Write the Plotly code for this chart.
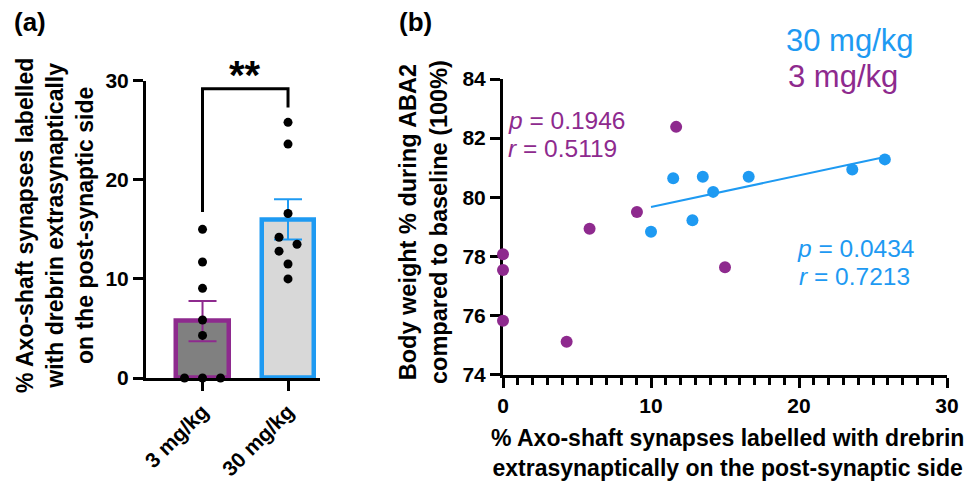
import numpy as np
import plotly.graph_objects as go

# ---------------- data ----------------
groups = ["3 mg/kg", "30 mg/kg"]
drebrin_3 = [0.0, 0.0, 0.0, 4.3, 5.85, 9.05, 11.7, 15.0]
weight_3 = [78.07, 77.54, 75.82, 75.11, 78.93, 79.50, 82.38, 77.63]
drebrin_30 = [10.0, 11.5, 12.8, 13.5, 14.2, 16.6, 23.6, 25.8]
weight_30 = [78.83, 80.64, 79.22, 80.69, 80.18, 80.69, 80.94, 81.28]
p_3, r_3 = "0.1946", "0.5119"
p_30, r_30 = "0.0434", "0.7213"
significance = "**"
a_yticks = [0, 10, 20, 30]
b_xticks = [0, 10, 20, 30]
b_yticks = [74, 76, 78, 80, 82, 84]

# ---------------- style / layout ----------------
W, H = 971, 481
PURPLE = "#8E2A8E"
BLUE = "#1E9AF2"
DARK_FILL = "#808080"
LIGHT_FILL = "#D8D8D8"
FONT = "Liberation Sans, Arial, sans-serif"

A_X0, A_X1 = 146, 320
A_YTOP, A_YBOT = 80.7, 378
A_XRANGE = [-0.661, 1.374]
A_YRANGE = [0, 30]
B_X0, B_X1 = 503, 947
B_YTOP, B_YBOT = 79, 374.5

def px(v):
    return v / W

def py(v):
    return (H - v) / H

a_px_per_y = (A_YBOT - A_YTOP) / (A_YRANGE[1] - A_YRANGE[0])
a_px_per_x = (A_X1 - A_X0) / (A_XRANGE[1] - A_XRANGE[0])


def swarm(values, step_px=9.0, min_dist=13.7):
    placed = []
    res = [0.0] * len(values)
    for i in np.argsort(values, kind="stable"):
        yv = values[i] * a_px_per_y
        xv = 0.0
        for k in [0, -1, 1, -2, 2, -3, 3, -4, 4]:
            xv = k * step_px
            if all((xv - qx) ** 2 + (yv - qy) ** 2 >= min_dist ** 2 for qx, qy in placed):
                break
        placed.append((xv, yv))
        res[i] = xv / a_px_per_x
    return res


fig = go.Figure()

# ---- panel (a): bars ----
sets = [drebrin_3, drebrin_30]
means = [float(np.mean(s)) for s in sets]
sems = [float(np.std(s, ddof=1) / np.sqrt(len(s))) for s in sets]
fills = [DARK_FILL, LIGHT_FILL]
edges = [PURPLE, BLUE]
for i, g in enumerate(groups):
    fig.add_trace(go.Bar(
        x=[i], y=[means[i]], width=0.61,
        marker=dict(color=fills[i], line=dict(color=edges[i], width=4.5)),
        error_y=dict(type="data", array=[sems[i]], color=edges[i], thickness=2, width=14),
        xaxis="x", yaxis="y", showlegend=False,
    ))

for i, s in enumerate(sets):
    offs = swarm(s)
    fig.add_trace(go.Scatter(
        x=[i + o for o in offs], y=s, mode="markers",
        marker=dict(color="black", size=9),
        xaxis="x", yaxis="y", showlegend=False, cliponaxis=False,
    ))

# significance bracket
left_b = max(drebrin_3) + 1.75
right_b = max(drebrin_30) + 1.5
top_b = max(drebrin_3 + drebrin_30) + 3.4
fig.add_trace(go.Scatter(
    x=[0, 0, 1, 1], y=[left_b, top_b, top_b, right_b], mode="lines",
    line=dict(color="black", width=3), xaxis="x", yaxis="y",
    showlegend=False, cliponaxis=False,
))

# ---- panel (b): scatter ----
fig.add_trace(go.Scatter(
    x=drebrin_3, y=weight_3, mode="markers",
    marker=dict(color=PURPLE, size=12), xaxis="x2", yaxis="y2",
    showlegend=False, cliponaxis=False,
))
fig.add_trace(go.Scatter(
    x=drebrin_30, y=weight_30, mode="markers",
    marker=dict(color=BLUE, size=12), xaxis="x2", yaxis="y2",
    showlegend=False, cliponaxis=False,
))
slope, icpt = np.polyfit(drebrin_30, weight_30, 1)
fx = np.array([min(drebrin_30), max(drebrin_30)])
fig.add_trace(go.Scatter(
    x=fx, y=slope * fx + icpt, mode="lines",
    line=dict(color=BLUE, width=2), xaxis="x2", yaxis="y2", showlegend=False,
))

axis_common = dict(
    showline=True, linecolor="black", linewidth=3, ticks="outside",
    tickcolor="black", tickwidth=3, ticklen=10, showgrid=False, zeroline=False,
    automargin=False,
    tickfont=dict(family=FONT, size=21, color="black", weight="bold"),
)

fig.update_layout(
    width=W, height=H,
    margin=dict(l=0, r=0, t=0, b=0),
    paper_bgcolor="white", plot_bgcolor="white",
    bargap=0,
    xaxis=dict(
        domain=[px(A_X0), px(A_X1)], range=A_XRANGE, anchor="y",
        tickmode="array", tickvals=[0, 1], ticktext=groups, tickangle=-45,
        layer="below traces", **axis_common,
    ),
    yaxis=dict(
        domain=[py(A_YBOT), py(A_YTOP)], range=A_YRANGE, anchor="x",
        tickmode="array", tickvals=a_yticks, layer="below traces", **axis_common,
    ),
    xaxis2=dict(
        domain=[px(B_X0), px(B_X1)], range=[b_xticks[0], b_xticks[-1]], anchor="y2",
        tickmode="array", tickvals=b_xticks, layer="below traces",
        minor=dict(dtick=1, tick0=0, ticks="outside", ticklen=7, tickwidth=2.5, tickcolor="black"),
        **axis_common,
    ),
    yaxis2=dict(
        domain=[py(B_YBOT), py(B_YTOP)], range=[b_yticks[0], b_yticks[-1]], anchor="x2",
        tickmode="array", tickvals=b_yticks, layer="below traces", **axis_common,
    ),
)

ann = []
bold = dict(family=FONT, color="black", weight="bold")
ann.append(dict(text="(a)", x=px(12), y=py(22), xanchor="left", yanchor="middle",
                font=dict(size=26, **bold)))
ann.append(dict(text="(b)", x=px(397), y=py(22), xanchor="left", yanchor="middle",
                font=dict(size=26, **bold)))
ann.append(dict(
    text="% Axo-shaft synapses labelled<br>with drebrin extrasynaptically<br>on the post-synaptic side",
    x=px(55), y=py(226), textangle=-90, xanchor="center", yanchor="middle",
    font=dict(size=23, **bold)))
# significance stars, placed above the bracket (converted to paper coords)
star_x = A_X0 + (0.5 - A_XRANGE[0]) * a_px_per_x
star_y = A_YBOT - (top_b + 1.4 - A_YRANGE[0]) * a_px_per_y
ann.append(dict(text=significance, x=px(star_x), y=py(star_y),
                xanchor="center", yanchor="middle", font=dict(size=40, **bold)))
ann.append(dict(
    text="Body weight % during ABA2<br>compared to baseline (100%)",
    x=px(423), y=py(222), textangle=-90, xanchor="center", yanchor="middle",
    font=dict(size=23.5, **bold)))
ann.append(dict(
    text="% Axo-shaft synapses labelled with drebrin<br>extrasynaptically on the post-synaptic side",
    x=px(727), y=py(453), xanchor="center", yanchor="middle",
    font=dict(size=23, **bold)))
reg = dict(family=FONT)
ann.append(dict(text="30 mg/kg", x=px(784), y=py(40), xanchor="left", yanchor="middle",
                font=dict(size=31, color=BLUE, **reg)))
ann.append(dict(text="3 mg/kg", x=px(786), y=py(77), xanchor="left", yanchor="middle",
                font=dict(size=31, color=PURPLE, **reg)))
ann.append(dict(text=f"<i>p</i> = {p_3}", x=px(506), y=py(121), xanchor="left", yanchor="middle",
                font=dict(size=24.5, color=PURPLE, **reg)))
ann.append(dict(text=f"<i>r</i> = {r_3}", x=px(506), y=py(149), xanchor="left", yanchor="middle",
                font=dict(size=24.5, color=PURPLE, **reg)))
ann.append(dict(text=f"<i>p</i> = {p_30}", x=px(795), y=py(248), xanchor="left", yanchor="middle",
                font=dict(size=24.5, color=BLUE, **reg)))
ann.append(dict(text=f"<i>r</i> = {r_30}", x=px(797), y=py(276), xanchor="left", yanchor="middle",
                font=dict(size=24.5, color=BLUE, **reg)))
for a in ann:
    a.setdefault("xref", "paper")
    a.setdefault("yref", "paper")
    a["showarrow"] = False
fig.update_layout(annotations=ann)

fig.write_html("out.html", config={"displayModeBar": False},
               post_script="document.body.style.margin='0';")
